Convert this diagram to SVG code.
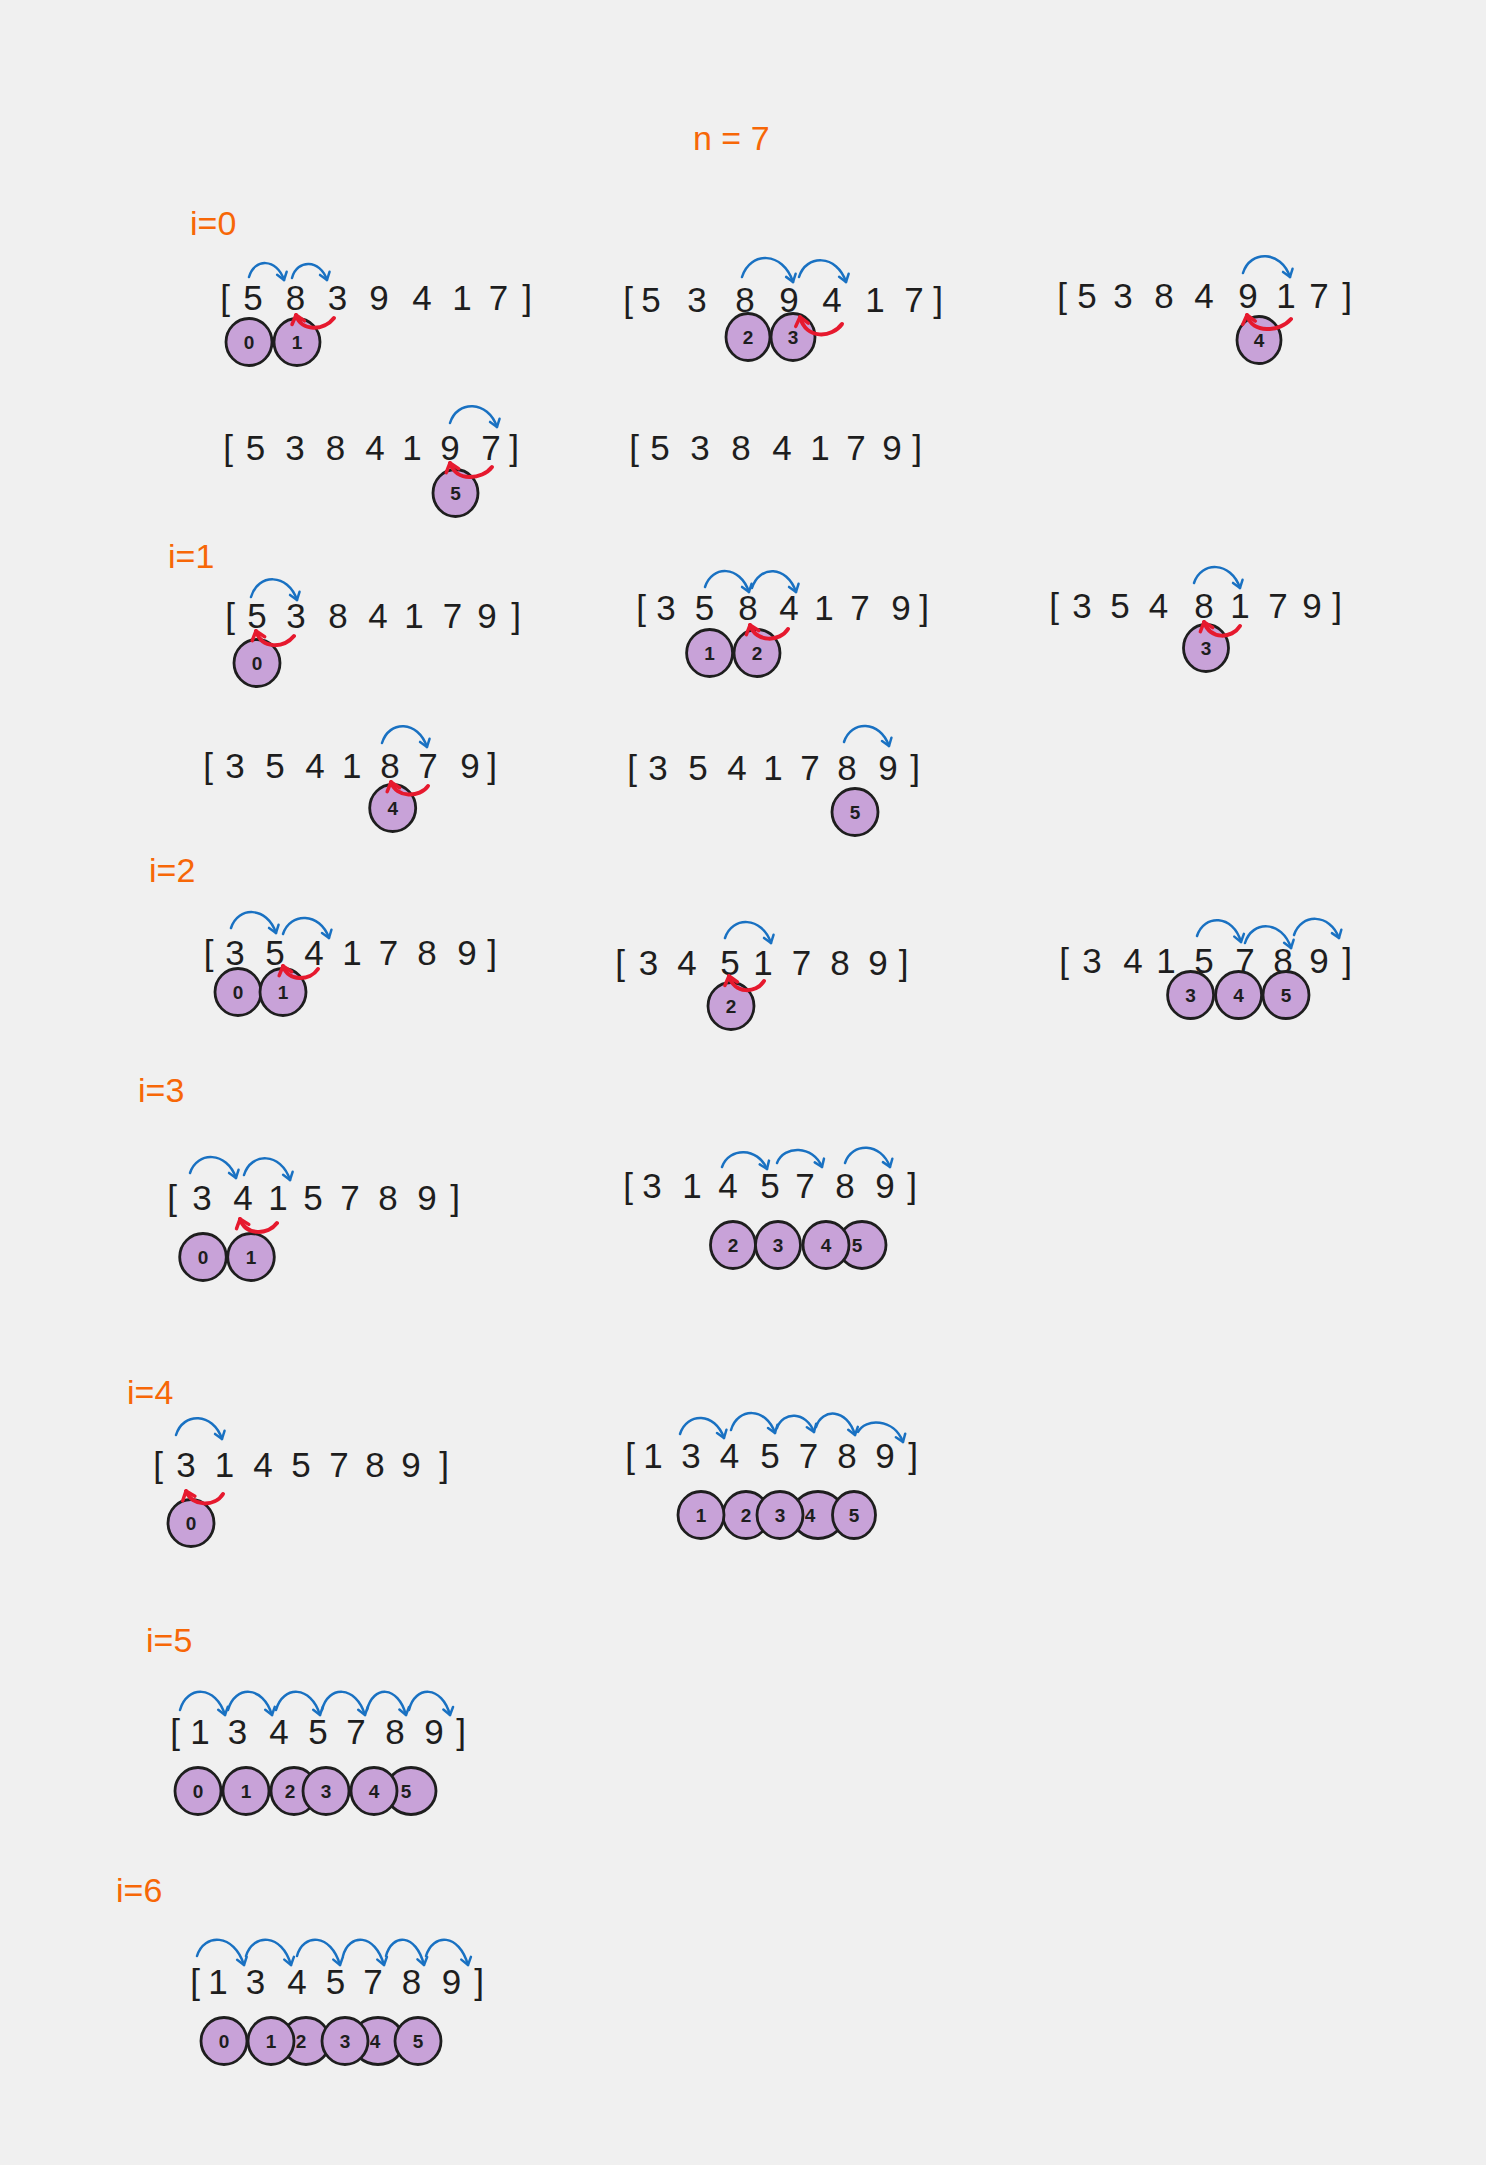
<svg xmlns="http://www.w3.org/2000/svg" width="1486" height="2165" viewBox="0 0 1486 2165">
<style>
.arr{font-family:"Liberation Sans",Arial,sans-serif;font-size:35px;fill:#1e1e1e;text-anchor:middle}
.lbl{font-family:"Liberation Sans",Arial,sans-serif;font-size:34px;fill:#f76707}
.c{fill:#c8a2d8;stroke:#1e1e1e;stroke-width:2.8}
.n{font-family:"Liberation Sans",Arial,sans-serif;font-size:19px;font-weight:bold;fill:#1e1e1e;text-anchor:middle}
.b{fill:none;stroke:#1971c2;stroke-width:2.5;stroke-linecap:round;marker-end:url(#bh)}
.r{fill:none;stroke:#e6192e;stroke-width:4;stroke-linecap:round;marker-end:url(#rh)}
</style>
<defs>
<marker id="bh" markerUnits="userSpaceOnUse" markerWidth="20" markerHeight="20" refX="10" refY="10" orient="auto" overflow="visible"><path d="M3,5 L10,10 L3,15" fill="none" stroke="#1971c2" stroke-width="2.5" stroke-linecap="round" stroke-linejoin="round"/></marker>
<marker id="rh" markerUnits="userSpaceOnUse" markerWidth="20" markerHeight="20" refX="10" refY="10" orient="auto" overflow="visible"><path d="M2,3.5 L10,10 L2,16.5" fill="none" stroke="#e6192e" stroke-width="3.5" stroke-linecap="round" stroke-linejoin="round"/></marker>
</defs>
<rect width="1486" height="2165" fill="#f0f0f0"/>

<g id="labels">
<text class="lbl" x="693" y="150">n = 7</text>
<text class="lbl" x="190" y="235">i=0</text>
<text class="lbl" x="168" y="568">i=1</text>
<text class="lbl" x="149" y="882">i=2</text>
<text class="lbl" x="138" y="1102">i=3</text>
<text class="lbl" x="127" y="1404">i=4</text>
<text class="lbl" x="146" y="1652">i=5</text>
<text class="lbl" x="116" y="1902">i=6</text>
</g>

<g id="step-i0-a">
<text class="arr" x="225 253 295.5 337.6 379 422 462 498.5 527" y="310">[5839417]</text>
<ellipse class="c" cx="249" cy="342" rx="23" ry="23.5"/><text class="n" x="249" y="349">0</text>
<ellipse class="c" cx="297" cy="342" rx="23" ry="23.5"/><text class="n" x="297" y="349">1</text>
</g>
<g id="step-i0-b">
<text class="arr" x="628 651 697 745 789 832 875 914 938" y="312">[5389417]</text>
<ellipse class="c" cx="748" cy="337" rx="22" ry="23.5"/><text class="n" x="748" y="344">2</text>
<ellipse class="c" cx="793" cy="337" rx="22" ry="23.5"/><text class="n" x="793" y="344">3</text>
</g>
<g id="step-i0-c">
<text class="arr" x="1062 1087 1123 1164 1204 1248 1286 1319 1347" y="308">[5384917]</text>
<ellipse class="c" cx="1259" cy="340" rx="22" ry="23.5"/><text class="n" x="1259" y="347">4</text>
</g>
<g id="step-i0-d">
<text class="arr" x="228 255.5 295 335.6 375 412 450 491 514" y="460">[5384197]</text>
<ellipse class="c" cx="455.5" cy="493" rx="22.5" ry="23.5"/><text class="n" x="455.5" y="500">5</text>
</g>
<g id="step-i0-e">
<text class="arr" x="634 660 700 741 782 820 856 892 917" y="460">[5384179]</text>
</g>

<g id="step-i1-a">
<text class="arr" x="230 257 296 338 378 414 452.5 487 516" y="628">[5384179]</text>
<ellipse class="c" cx="257" cy="663" rx="23" ry="23.5"/><text class="n" x="257" y="670">0</text>
</g>
<g id="step-i1-b">
<text class="arr" x="641 666 704.6 748 789 824 860 901 924" y="620">[3584179]</text>
<ellipse class="c" cx="709.6" cy="653" rx="23" ry="23.5"/><text class="n" x="709.6" y="660">1</text>
<ellipse class="c" cx="757" cy="653" rx="23" ry="23.5"/><text class="n" x="757" y="660">2</text>
</g>
<g id="step-i1-c">
<text class="arr" x="1054 1082 1120 1158.5 1204 1240 1278 1312 1337" y="618">[3548179]</text>
<ellipse class="c" cx="1206" cy="648" rx="22.5" ry="23.5"/><text class="n" x="1206" y="655">3</text>
</g>
<g id="step-i1-d">
<text class="arr" x="208 235 275 315 351.7 390 428 470 492" y="778">[3541879]</text>
<ellipse class="c" cx="392.7" cy="808" rx="23" ry="23.5"/><text class="n" x="392.7" y="815">4</text>
</g>
<g id="step-i1-e">
<text class="arr" x="632 658 698 737 773 810 847 888 915" y="780">[3541789]</text>
<ellipse class="c" cx="855" cy="812" rx="23" ry="23.5"/><text class="n" x="855" y="819">5</text>
</g>

<g id="step-i2-a">
<text class="arr" x="208.5 235 275 314 352 388.5 427 467 492" y="965">[3541789]</text>
<ellipse class="c" cx="238" cy="992" rx="23" ry="23.5"/><text class="n" x="238" y="999">0</text>
<ellipse class="c" cx="283" cy="992" rx="23" ry="23.5"/><text class="n" x="283" y="999">1</text>
</g>
<g id="step-i2-b">
<text class="arr" x="620 648.5 687 730 763 801.5 840 878 903.5" y="975">[3451789]</text>
<ellipse class="c" cx="731" cy="1006" rx="23" ry="23.5"/><text class="n" x="731" y="1013">2</text>
</g>
<g id="step-i2-c">
<text class="arr" x="1064 1092 1133 1166 1204 1245 1283 1319 1347" y="973">[3415789]</text>
<ellipse class="c" cx="1190.6" cy="995" rx="23" ry="23.5"/><text class="n" x="1190.6" y="1002">3</text>
<ellipse class="c" cx="1238.6" cy="995" rx="23" ry="23.5"/><text class="n" x="1238.6" y="1002">4</text>
<ellipse class="c" cx="1286" cy="995" rx="23" ry="23.5"/><text class="n" x="1286" y="1002">5</text>
</g>

<g id="step-i3-a">
<text class="arr" x="172 202 243 278 313 350 388 427 455" y="1210">[3415789]</text>
<ellipse class="c" cx="203" cy="1257" rx="23.3" ry="23.5"/><text class="n" x="203" y="1264">0</text>
<ellipse class="c" cx="251" cy="1257" rx="23.3" ry="23.5"/><text class="n" x="251" y="1264">1</text>
</g>
<g id="step-i3-b">
<text class="arr" x="628 652 692 728 770 805 845 885 912" y="1198">[3145789]</text>
<ellipse class="c" cx="862" cy="1245" rx="24" ry="23.5"/><text class="n" x="857" y="1252">5</text>
<ellipse class="c" cx="733" cy="1245" rx="22.5" ry="23.5"/><text class="n" x="733" y="1252">2</text>
<ellipse class="c" cx="778" cy="1245" rx="22.5" ry="23.5"/><text class="n" x="778" y="1252">3</text>
<ellipse class="c" cx="826" cy="1245" rx="23" ry="23.5"/><text class="n" x="826" y="1252">4</text>
</g>

<g id="step-i4-a">
<text class="arr" x="158 186 224.6 263 301 339 375 411 444" y="1477">[3145789]</text>
<ellipse class="c" cx="191" cy="1523" rx="23" ry="23.5"/><text class="n" x="191" y="1530">0</text>
</g>
<g id="step-i4-b">
<text class="arr" x="630 653 691 729.6 770 808.5 847 885 913" y="1468">[1345789]</text>
<ellipse class="c" cx="746" cy="1515" rx="23" ry="23.5"/><text class="n" x="746" y="1522">2</text>
<ellipse class="c" cx="818" cy="1515" rx="26" ry="23.5"/><text class="n" x="810" y="1522">4</text>
<ellipse class="c" cx="701" cy="1515" rx="23" ry="23.5"/><text class="n" x="701" y="1522">1</text>
<ellipse class="c" cx="780" cy="1515" rx="23" ry="23.5"/><text class="n" x="780" y="1522">3</text>
<ellipse class="c" cx="854" cy="1515" rx="21.5" ry="23.5"/><text class="n" x="854" y="1522">5</text>
</g>

<g id="step-i5-a">
<text class="arr" x="175 200 237.5 279 318 356 395 434 461" y="1744">[1345789]</text>
<ellipse class="c" cx="294" cy="1791" rx="23" ry="23.5"/><text class="n" x="290" y="1798">2</text>
<ellipse class="c" cx="411" cy="1791" rx="25" ry="23.5"/><text class="n" x="406" y="1798">5</text>
<ellipse class="c" cx="198" cy="1791" rx="23" ry="23.5"/><text class="n" x="198" y="1798">0</text>
<ellipse class="c" cx="246" cy="1791" rx="23" ry="23.5"/><text class="n" x="246" y="1798">1</text>
<ellipse class="c" cx="326" cy="1791" rx="23" ry="23.5"/><text class="n" x="326" y="1798">3</text>
<ellipse class="c" cx="374" cy="1791" rx="23" ry="23.5"/><text class="n" x="374" y="1798">4</text>
</g>

<g id="step-i6-a">
<text class="arr" x="195 218 255.5 297 335.6 373 411.5 451.6 479" y="1994">[1345789]</text>
<ellipse class="c" cx="306" cy="2041" rx="24" ry="23.5"/><text class="n" x="301" y="2048">2</text>
<ellipse class="c" cx="378" cy="2041" rx="26" ry="23.5"/><text class="n" x="375" y="2048">4</text>
<ellipse class="c" cx="224" cy="2041" rx="23" ry="23.5"/><text class="n" x="224" y="2048">0</text>
<ellipse class="c" cx="271" cy="2041" rx="23" ry="23.5"/><text class="n" x="271" y="2048">1</text>
<ellipse class="c" cx="345" cy="2041" rx="23" ry="23.5"/><text class="n" x="345" y="2048">3</text>
<ellipse class="c" cx="418" cy="2041" rx="23" ry="23.5"/><text class="n" x="418" y="2048">5</text>
</g>

<g id="connectors">
<path class="b" d="M249,277 C254,258 277,258 284,280"/>
<path class="b" d="M292,278 C297,259 320,259 327,280"/>
<path class="b" d="M742,277 C750,251 783,251 793,282"/>
<path class="b" d="M799,277 C806,254 837,254 846,282"/>
<path class="b" d="M1243,273 C1250,250 1281,250 1290,277"/>
<path class="b" d="M450,423 C457,400 488,400 497,427"/>
<path class="b" d="M251,597 C258,573 288,573 297,600"/>
<path class="b" d="M705,587 C712,565 740,565 749,592"/>
<path class="b" d="M752,588 C759,565 787,565 796,592"/>
<path class="b" d="M1194,583 C1201,561 1231,561 1240,588"/>
<path class="b" d="M382,743 C389,720 418,720 427,747"/>
<path class="b" d="M844,742 C851,720 880,720 889,746"/>
<path class="b" d="M231,928 C238,906 267,906 276,933"/>
<path class="b" d="M283,934 C290,912 320,912 329,938"/>
<path class="b" d="M725,938 C732,916 762,916 771,943"/>
<path class="b" d="M1197,936 C1204,914 1233,914 1241,942"/>
<path class="b" d="M1245,943 C1252,920 1282,920 1291,948"/>
<path class="b" d="M1294,935 C1301,913 1330,913 1339,938"/>
<path class="b" d="M190,1173 C197,1151 227,1151 236,1178"/>
<path class="b" d="M244,1175 C251,1152 281,1152 290,1180"/>
<path class="b" d="M722,1167 C729,1147 758,1147 767,1169"/>
<path class="b" d="M777,1163 C784,1145 813,1145 822,1167"/>
<path class="b" d="M845,1163 C852,1142 881,1142 890,1167"/>
<path class="b" d="M176,1435 C183,1412 213,1412 222,1439"/>
<path class="b" d="M680,1434 C687,1412 715,1412 724,1438"/>
<path class="b" d="M731,1430 C738,1407 766,1407 775,1433"/>
<path class="b" d="M777,1428 C783,1411 806,1411 814,1432"/>
<path class="b" d="M816,1427 C822,1408 847,1408 855,1435"/>
<path class="b" d="M858,1432 C865,1418 894,1418 903,1442"/>
<path class="b" d="M180,1710 C187,1685 216,1685 225,1715"/>
<path class="b" d="M228,1710 C235,1685 263,1685 272,1715"/>
<path class="b" d="M276,1710 C283,1685 311,1685 320,1715"/>
<path class="b" d="M322,1710 C328,1685 356,1685 365,1715"/>
<path class="b" d="M367,1710 C373,1685 398,1685 406,1715"/>
<path class="b" d="M409,1710 C415,1685 442,1685 450,1715"/>
<path class="b" d="M197,1956 C204,1933 234,1933 244,1965"/>
<path class="b" d="M246,1956 C253,1933 282,1933 291,1965"/>
<path class="b" d="M297,1956 C303,1933 331,1933 340,1965"/>
<path class="b" d="M343,1956 C349,1933 375,1933 384,1965"/>
<path class="b" d="M386,1956 C392,1933 416,1933 424,1965"/>
<path class="b" d="M426,1956 C433,1933 459,1933 468,1965"/>
<path class="r" d="M334,318 C324,331 301,332 296,315"/>
<path class="r" d="M842,324 C832,338 806,340 800,317"/>
<path class="r" d="M1291,319 C1280,332 1252,334 1247,315"/>
<path class="r" d="M492,467 C482,480 456,482 450,463"/>
<path class="r" d="M294,636 C284,648 262,650 256,631"/>
<path class="r" d="M788,629 C780,642 756,643 750,625"/>
<path class="r" d="M1240,626 C1232,639 1210,640 1204,622"/>
<path class="r" d="M428,786 C420,798 396,798 391,782"/>
<path class="r" d="M318,969 C310,981 288,982 283,966"/>
<path class="r" d="M764,981 C756,994 734,994 729,976"/>
<path class="r" d="M277,1223 C268,1235 246,1236 240,1219"/>
<path class="r" d="M223,1494 C215,1507 192,1507 186,1491"/>
</g>
</svg>
